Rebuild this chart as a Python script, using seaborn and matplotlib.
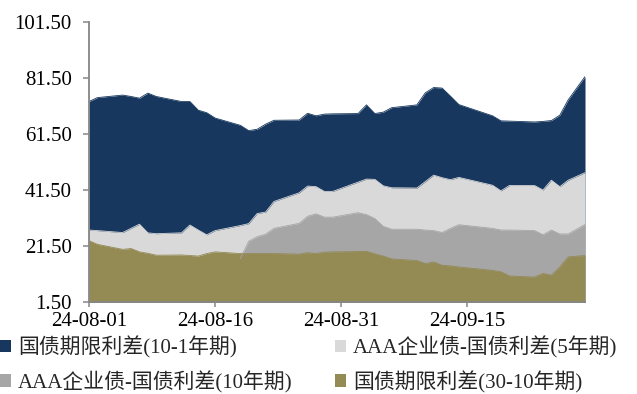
import matplotlib
matplotlib.use("Agg")
import matplotlib.pyplot as plt
import matplotlib.dates as mdates
from matplotlib.patches import Patch
from matplotlib.ticker import FormatStrFormatter
import numpy as np
import pandas as pd
import seaborn as sns

# Trading days (incl. weekend make-up sessions)
dates = [
    "2024-08-01", "2024-08-02", "2024-08-05", "2024-08-06", "2024-08-07", "2024-08-08",
    "2024-08-09", "2024-08-12", "2024-08-13", "2024-08-14", "2024-08-15", "2024-08-16",
    "2024-08-19", "2024-08-20", "2024-08-21", "2024-08-22", "2024-08-23", "2024-08-26",
    "2024-08-27", "2024-08-28", "2024-08-29", "2024-08-30", "2024-09-02", "2024-09-03",
    "2024-09-04", "2024-09-05", "2024-09-06", "2024-09-09", "2024-09-10", "2024-09-11",
    "2024-09-12", "2024-09-13", "2024-09-14", "2024-09-18", "2024-09-19", "2024-09-20",
    "2024-09-23", "2024-09-24", "2024-09-25", "2024-09-26", "2024-09-27", "2024-09-29",
]

# Spreads in bp
spread_10_1 = [
    73.1, 74.5, 75.4, 74.9, 74.3, 76.1, 74.9, 73.1, 73.1, 70.0, 69.1, 67.2,
    64.6, 62.7, 63.2, 65.0, 66.4, 66.5, 68.9, 68.0, 68.6, 68.7, 68.8, 71.9,
    68.8, 69.3, 70.9, 71.9, 76.2, 78.1, 77.9, 75.0, 72.0, 68.0, 66.2, 66.1,
    65.8, 66.0, 66.3, 68.2, 73.7, 82.0,
]
aaa_5y = [
    27.2, 27.0, 26.3, 27.8, 29.3, 26.2, 25.9, 26.2, 29.0, 27.2, 25.5, 27.0,
    28.8, 29.5, 33.1, 33.6, 37.4, 40.5, 42.9, 42.7, 41.0, 41.0, 44.3, 45.4,
    45.3, 43.0, 42.3, 42.2, 44.5, 46.8, 45.9, 45.2, 46.0, 43.2, 41.2, 43.1,
    43.1, 41.5, 45.0, 42.7, 45.0, 47.7,
]
aaa_10y = [
    np.nan, np.nan, np.nan, np.nan, np.nan, np.nan, np.nan, np.nan, np.nan, np.nan, np.nan, np.nan,
    17.0, 23.2, 24.8, 25.7, 27.8, 29.6, 32.1, 33.0, 31.8, 31.8, 33.4, 32.7,
    31.3, 28.5, 27.5, 27.5, 27.2, 27.0, 26.3, 27.8, 29.1, 27.8, 27.2, 27.2,
    27.0, 25.5, 27.2, 25.8, 25.8, 29.2,
]
spread_30_10 = [
    23.4, 22.1, 20.3, 20.6, 19.4, 18.9, 18.2, 18.3, 18.1, 17.9, 18.8, 19.4,
    18.8, 18.8, 18.8, 18.8, 18.8, 18.6, 19.1, 18.8, 19.3, 19.4, 19.5, 19.6,
    18.7, 17.9, 16.9, 16.3, 15.2, 15.8, 14.6, 14.4, 14.0, 12.8, 12.3, 10.8,
    10.4, 11.7, 11.1, 14.0, 17.6, 18.1,
]

series_names = [
    "国债期限利差(10-1年期)",
    "AAA企业债-国债利差(5年期)",
    "AAA企业债-国债利差(10年期)",
    "国债期限利差(30-10年期)",
]
series_values = [spread_10_1, aaa_5y, aaa_10y, spread_30_10]
colors = ["#17375E", "#D9D9D9", "#A6A6A6", "#948A54"]
y_ticks = [1.5, 21.5, 41.5, 61.5, 81.5, 101.5]
x_ticks = ["2024-08-01", "2024-08-16", "2024-08-31", "2024-09-15"]

sns.set_style("white")
plt.rcParams["font.family"] = ["Liberation Serif", "Noto Sans CJK SC"]
plt.rcParams["axes.unicode_minus"] = False

df = pd.DataFrame({"date": pd.to_datetime(dates)})
for name, vals in zip(series_names, series_values):
    df[name] = vals
long = df.melt(id_vars="date", var_name="series", value_name="value")

W, H = 637, 394
fig = plt.figure(figsize=(W / 100, H / 100), dpi=100)
ax = fig.add_axes([89 / W, 1 - 302 / H, (585 - 89) / W, (302 - 22) / H])

# Overlapping areas, later series drawn on top
for name, color in zip(series_names, colors):
    sub = long[long["series"] == name].dropna()
    sns.lineplot(data=sub, x="date", y="value", ax=ax, color=color,
                 linewidth=0.6, legend=False)
    ax.fill_between(sub["date"].values, 0, sub["value"].values,
                    color=color, linewidth=0)

ax.set_xlim(pd.Timestamp("2024-08-01"), pd.Timestamp("2024-09-29"))
ax.set_ylim(y_ticks[0], y_ticks[-1])
ax.set_yticks(y_ticks)
ax.yaxis.set_major_formatter(FormatStrFormatter("%.2f"))
ax.set_xticks(pd.to_datetime(x_ticks))
ax.xaxis.set_major_formatter(mdates.DateFormatter("%y-%m-%d"))
ax.set_xlabel("")
ax.set_ylabel("")

spine_color = "#868686"
for side in ["top", "right"]:
    ax.spines[side].set_visible(False)
for side in ["left", "bottom"]:
    ax.spines[side].set_color(spine_color)
    ax.spines[side].set_linewidth(1.3)
ax.tick_params(axis="y", direction="out", length=4.3, width=1.1, color=spine_color,
               labelsize=15, pad=8, left=True)
ax.tick_params(axis="x", direction="out", length=3.6, width=1.1, color=spine_color,
               labelsize=15, pad=3.5, bottom=True)
for lab in ax.get_xticklabels() + ax.get_yticklabels():
    lab.set_color("black")

order = [0, 2, 1, 3]
handles = [Patch(facecolor=colors[i], edgecolor="none") for i in order]
labels = [series_names[i] for i in order]
fig.legend(handles, labels, ncol=2, loc="upper left",
           bbox_to_anchor=(0.0, 1 - 336 / H), bbox_transform=fig.transFigure,
           frameon=False, fontsize=15, borderpad=0, borderaxespad=0,
           handlelength=0.55, handleheight=0.55, handletextpad=0.3,
           columnspacing=2.05, labelspacing=0.6)

fig.savefig("out.png", dpi=100)
